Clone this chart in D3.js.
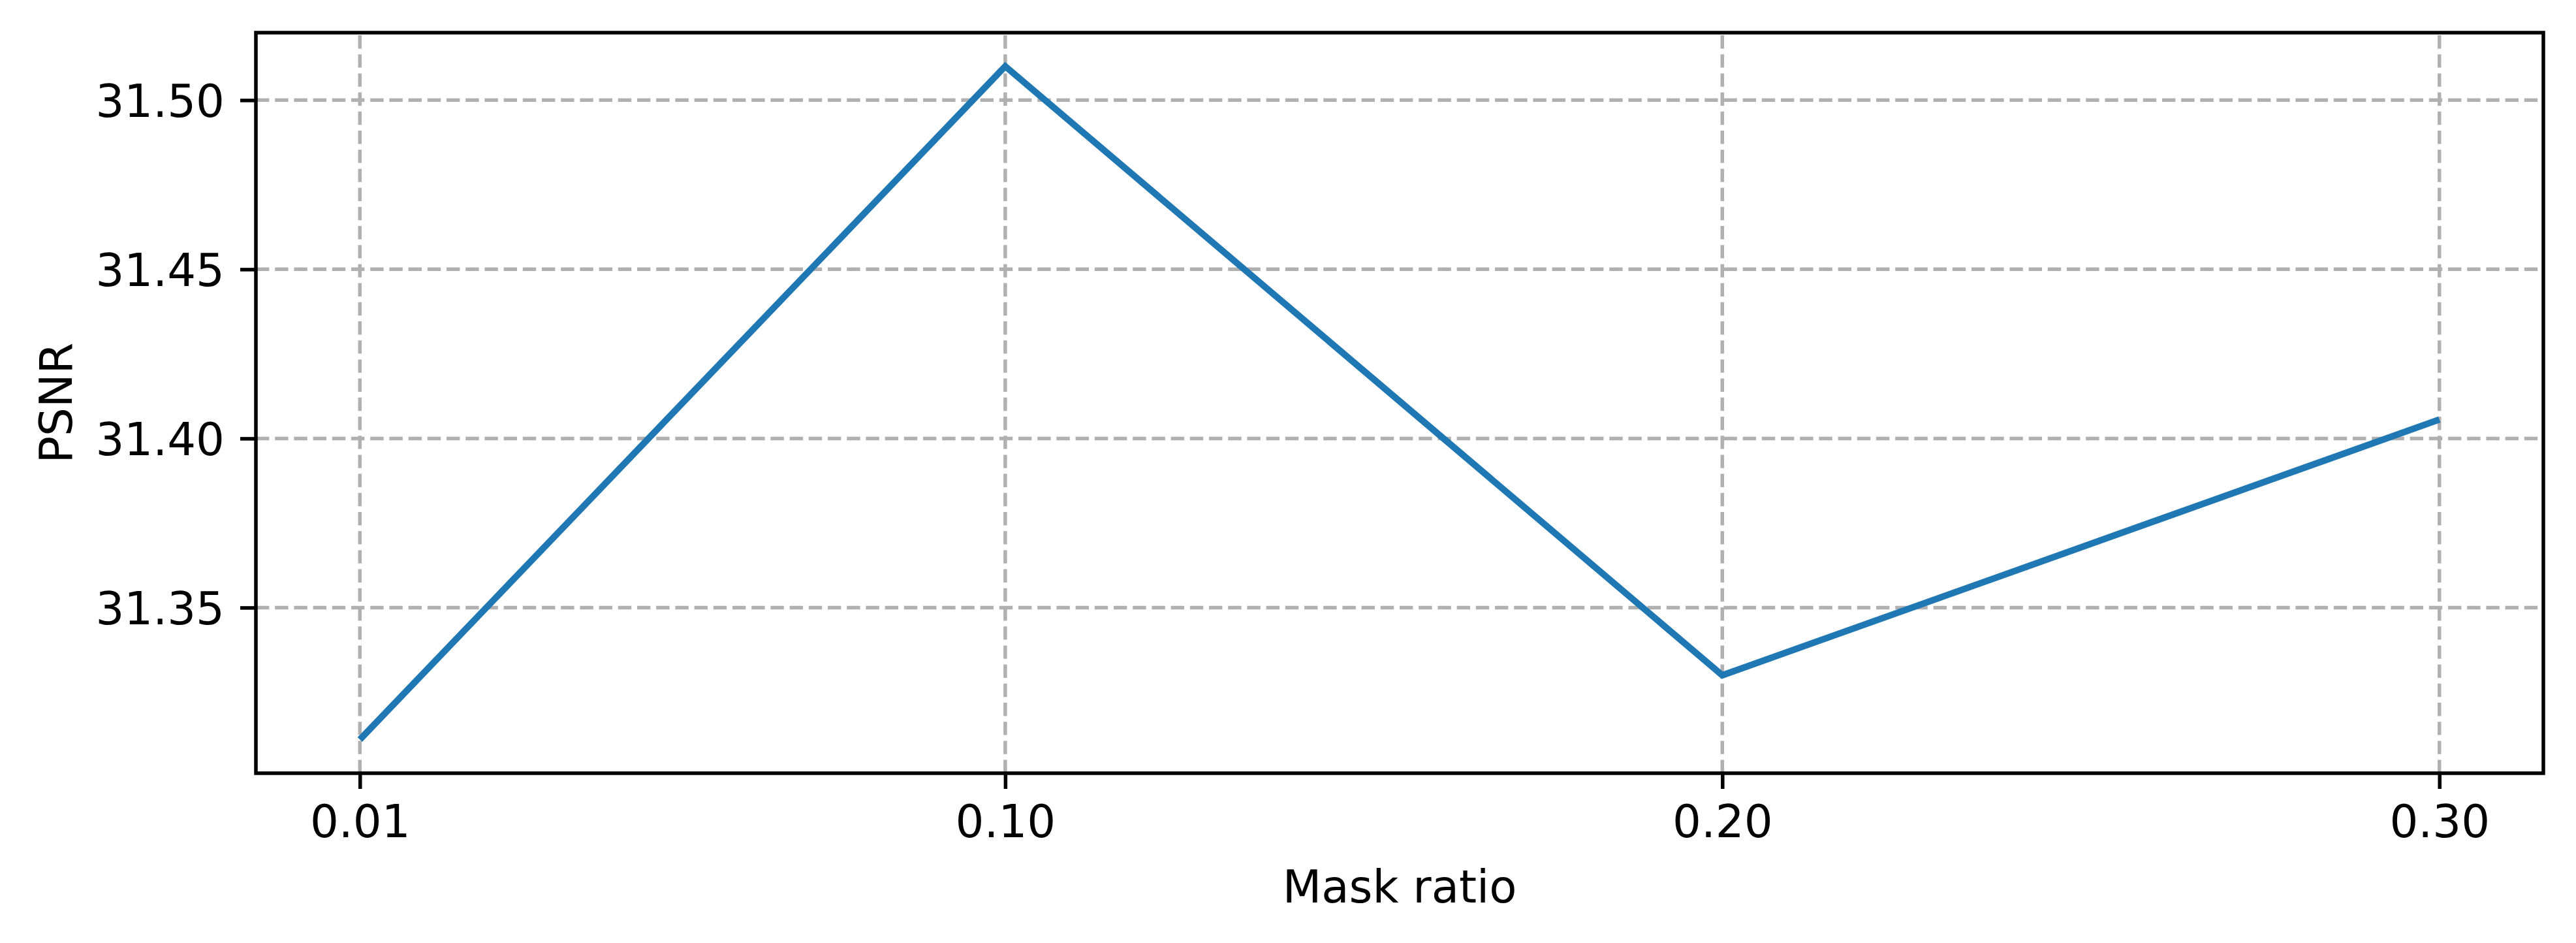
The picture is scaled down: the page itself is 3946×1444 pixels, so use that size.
<!DOCTYPE html>
<html>
<head>
<meta charset="utf-8">
<script src="https://cdn.jsdelivr.net/npm/d3@7"></script>
<style>
    body { margin: 0; background: #ffffff; }
    text { font-family: "DejaVu Sans", sans-serif; fill: #000000; }
</style>
</head>
<body>
<div id="chart"></div>
<script>

// Data
var maskRatios = [0.01, 0.10, 0.20, 0.30];
var psnrValues = [31.311, 31.510, 31.330, 31.4056];
var xTickLabels = ["0.01", "0.10", "0.20", "0.30"];
var yTicks = [31.35, 31.40, 31.45, 31.50];
var yTickLabels = ["31.35", "31.40", "31.45", "31.50"];

var options = {
    width: 3946,
    height: 1444,
    left: 392,
    right: 3896,
    top: 50,
    bottom: 1184,
    fontSize: 69,
    tickLength: 24,
    tickPad: 24,
    lineColor: "#1f77b4",
    gridColor: "#b0b0b0"
};

function paddedExtent(values)
{
    var ext = d3.extent(values);
    var pad = (ext[1] - ext[0]) * 0.05;
    return [ext[0] - pad, ext[1] + pad];
}

function drawChart(id, o)
{
    var svg = d3.select("#" + id)
        .append("svg")
        .attr("width", o.width)
        .attr("height", o.height);

    var x = d3.scaleLinear()
        .domain(paddedExtent(maskRatios))
        .range([o.left, o.right]);

    var y = d3.scaleLinear()
        .domain(paddedExtent(psnrValues))
        .range([o.bottom, o.top]);

    // Grid lines
    var grid = svg.append("g")
        .attr("stroke", o.gridColor)
        .attr("stroke-width", 5.5)
        .attr("stroke-dasharray", "20.4,8.8");

    maskRatios.forEach(function(v)
    {
        grid.append("line")
            .attr("x1", x(v)).attr("x2", x(v))
            .attr("y1", o.bottom).attr("y2", o.top);
    });

    yTicks.forEach(function(v)
    {
        grid.append("line")
            .attr("x1", o.left).attr("x2", o.right)
            .attr("y1", y(v)).attr("y2", y(v));
    });

    // Data line
    var line = d3.line()
        .x(function(d, i) { return x(maskRatios[i]); })
        .y(function(d) { return y(d); });

    svg.append("path")
        .datum(psnrValues)
        .attr("d", line)
        .attr("fill", "none")
        .attr("stroke", o.lineColor)
        .attr("stroke-width", 10)
        .attr("stroke-linejoin", "miter")
        .attr("stroke-linecap", "butt");

    // Frame
    svg.append("rect")
        .attr("x", o.left)
        .attr("y", o.top)
        .attr("width", o.right - o.left)
        .attr("height", o.bottom - o.top)
        .attr("fill", "none")
        .attr("stroke", "#000000")
        .attr("stroke-width", 5.5);

    // X axis ticks
    var xAxis = d3.axisBottom(x)
        .tickValues(maskRatios)
        .tickFormat(function(d, i) { return xTickLabels[i]; })
        .tickSize(o.tickLength)
        .tickPadding(o.tickPad);

    var gx = svg.append("g")
        .attr("transform", "translate(0," + o.bottom + ")")
        .call(xAxis);
    gx.select(".domain").remove();
    gx.selectAll(".tick line").attr("stroke", "#000").attr("stroke-width", 5.5);
    gx.selectAll(".tick text")
        .attr("font-size", o.fontSize)
        .attr("font-family", "DejaVu Sans")
        .attr("dy", null)
        .attr("y", o.tickLength + o.tickPad + 50);

    // Y axis ticks
    var yAxis = d3.axisLeft(y)
        .tickValues(yTicks)
        .tickFormat(function(d, i) { return yTickLabels[i]; })
        .tickSize(o.tickLength)
        .tickPadding(o.tickPad);

    var gy = svg.append("g")
        .attr("transform", "translate(" + o.left + ",0)")
        .call(yAxis);
    gy.select(".domain").remove();
    gy.selectAll(".tick line").attr("stroke", "#000").attr("stroke-width", 5.5);
    gy.selectAll(".tick text")
        .attr("font-size", o.fontSize)
        .attr("font-family", "DejaVu Sans")
        .attr("dy", null)
        .attr("y", 25);

    // Axis titles
    svg.append("text")
        .attr("x", (o.left + o.right) / 2)
        .attr("y", 1382)
        .attr("text-anchor", "middle")
        .attr("font-size", o.fontSize)
        .text("Mask ratio");

    svg.append("text")
        .attr("transform", "translate(110," + ((o.top + o.bottom) / 2) + ") rotate(-90)")
        .attr("text-anchor", "middle")
        .attr("font-size", o.fontSize)
        .text("PSNR");
}

drawChart("chart", options);
</script>
</body>
</html>
